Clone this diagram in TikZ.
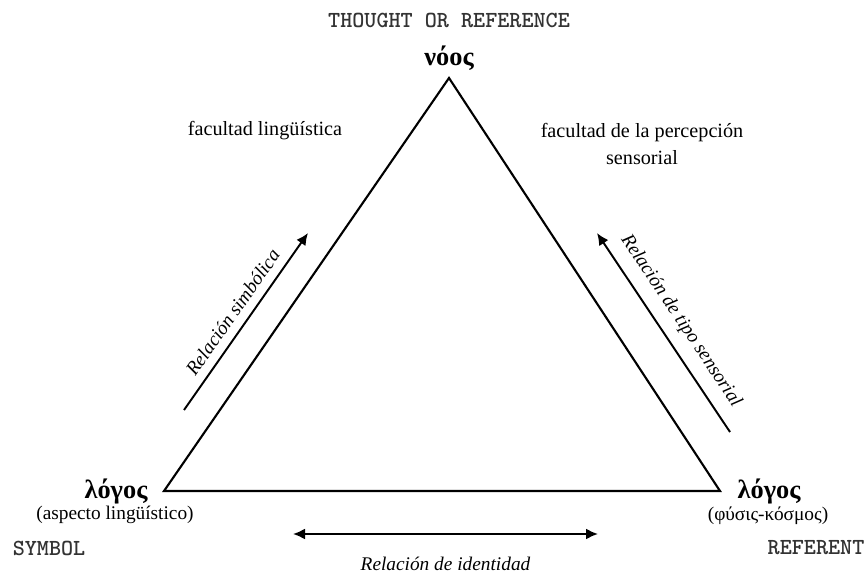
\documentclass[tikz,border=0pt]{standalone}
\usepackage{fontspec}
\setmainfont{Liberation Serif}
\newfontfamily\monobold{lmmonolt10-bold.otf}
\usetikzlibrary{arrows.meta,positioning}

\begin{document}
\begin{tikzpicture}[x=0.02cm, y=-0.02cm, >={Latex[length=2.4mm,width=2.2mm]},
    side/.style={line width=1.2pt},
    rel/.style={line width=1.1pt},
    mono/.style={font=\fontsize{13.1}{15}\selectfont\monobold, text=black!80},
    greek/.style={font=\fontsize{15}{17}\selectfont\bfseries},
    gloss/.style={font=\fontsize{11}{13}\selectfont},
    faculty/.style={font=\fontsize{11.5}{15}\selectfont, align=center},
    hand/.style={font=\fontsize{11}{13}\selectfont\itshape}]
    \useasboundingbox (0,0) rectangle (865,577);

    % triangle
    \coordinate (nous) at (449,78);
    \coordinate (symb) at (164,491);
    \coordinate (refe) at (720,491);
    \draw[side] (nous) -- (refe) -- (symb) -- cycle;

    % corner labels
    \node[mono] (thought) at (449,20) {THOUGHT OR REFERENCE};
    \node[greek] (nouslbl) at (449,58) {νόος};
    \node[greek] (logosS) at (116,492) {λόγος};
    \node[gloss] (aspecto) at (115,515) {(aspecto lingüístico)};
    \node[mono] (symbol) at (49,548) {SYMBOL};
    \node[greek] (logosR) at (769,492) {λόγος};
    \node[gloss] (physis) at (768,516) {(φύσις-κόσμος)};
    \node[mono] (referent) at (816,548) {REFERENT};

    \node[faculty] (faclin) at (265,131) {facultad lingüística};
    \node[faculty] (facsen) at (642,144) {facultad de la percepción\\sensorial};

    % relations
    \coordinate (simA) at (184,410);
    \coordinate (simB) at (308,233);
    \draw[rel, ->] (simA) -- (simB) node[midway, sloped, above=1.5pt, hand] {Relación simbólica};

    \coordinate (senA) at (597,233);
    \coordinate (senB) at (730,432);
    \draw[rel, <-] (senA) -- (senB) node[midway, sloped, above=3pt, hand] {Relación de tipo sensorial};

    \coordinate (idA) at (293,534);
    \coordinate (idB) at (598,534);
    \draw[rel, <->] (idA) -- (idB) node[midway, below=3.2mm, hand] {Relación de identidad};
\end{tikzpicture}
\end{document}
